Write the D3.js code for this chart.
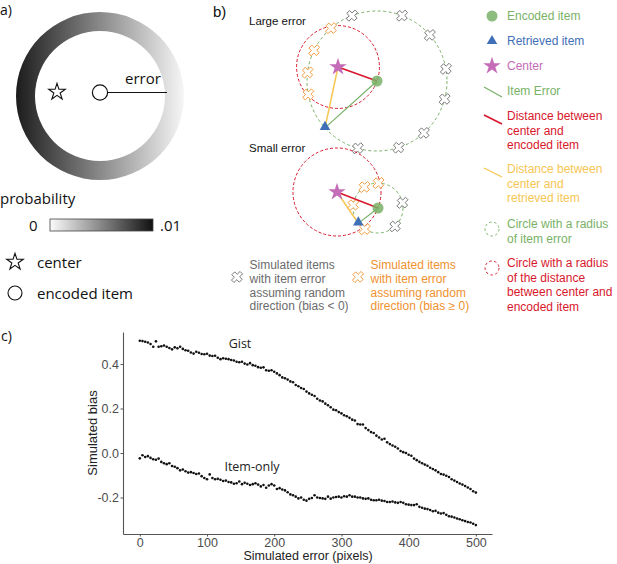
<!DOCTYPE html>
<html>
<head>
<meta charset="utf-8">
<script src="https://cdn.jsdelivr.net/npm/d3@7"></script>
<style>
  body { margin: 0; background: #fff; }
  svg { display: block; }
</style>
</head>
<body>
<svg id="fig" width="617" height="564"></svg>
<script>
// panel c: simulated bias against simulated error
var errorPx = [
  0, 4, 8, 12, 16, 20, 24, 28, 32, 36, 40, 44, 48, 52, 56, 60, 64, 68, 72, 76, 80, 84, 88, 92, 96,
  100, 104, 108, 112, 116, 120, 124, 128, 132, 136, 140, 144, 148, 152, 156, 160, 164, 168, 172, 176, 180, 184, 188, 192, 196,
  200, 204, 208, 212, 216, 220, 224, 228, 232, 236, 240, 244, 248, 252, 256, 260, 264, 268, 272, 276, 280, 284, 288, 292, 296,
  300, 304, 308, 312, 316, 320, 324, 328, 332, 336, 340, 344, 348, 352, 356, 360, 364, 368, 372, 376, 380, 384, 388, 392, 396,
  400, 404, 408, 412, 416, 420, 424, 428, 432, 436, 440, 444, 448, 452, 456, 460, 464, 468, 472, 476, 480, 484, 488, 492, 496,
  500
];
var gistBias = [
  0.505, 0.503, 0.500, 0.497, 0.490, 0.478, 0.502, 0.478, 0.480, 0.483, 0.478, 0.472, 0.466, 0.475, 0.471, 0.478, 0.468, 0.462, 0.460, 0.452, 0.447, 0.455, 0.451, 0.445, 0.444,
  0.446, 0.438, 0.436, 0.437, 0.428, 0.422, 0.426, 0.424, 0.422, 0.418, 0.416, 0.410, 0.408, 0.410, 0.402, 0.398, 0.404, 0.395, 0.392, 0.386, 0.383, 0.385, 0.372, 0.370, 0.372,
  0.365, 0.358, 0.350, 0.340, 0.336, 0.330, 0.322, 0.318, 0.306, 0.300, 0.292, 0.288, 0.276, 0.268, 0.262, 0.256, 0.244, 0.236, 0.232, 0.222, 0.215, 0.206, 0.195, 0.192, 0.184,
  0.178, 0.170, 0.165, 0.158, 0.150, 0.146, 0.130, 0.128, 0.128, 0.112, 0.103, 0.094, 0.090, 0.078, 0.070, 0.061, 0.064, 0.048, 0.040, 0.034, 0.028, 0.020, 0.009, 0.004, 0.000,
  -0.008, -0.012, -0.025, -0.032, -0.040, -0.046, -0.052, -0.057, -0.066, -0.072, -0.078, -0.086, -0.094, -0.097, -0.102, -0.108, -0.118, -0.124, -0.130, -0.137, -0.142, -0.148, -0.155, -0.162, -0.172,
  -0.178
];
var itemOnlyBias = [
  -0.024, -0.010, -0.018, -0.014, -0.022, -0.028, -0.030, -0.025, -0.040, -0.046, -0.050, -0.046, -0.058, -0.062, -0.068, -0.078, -0.074, -0.082, -0.088, -0.086, -0.090, -0.094, -0.092, -0.104, -0.112,
  -0.118, -0.096, -0.112, -0.118, -0.116, -0.120, -0.126, -0.124, -0.130, -0.132, -0.138, -0.136, -0.128, -0.140, -0.134, -0.138, -0.144, -0.140, -0.136, -0.142, -0.150, -0.144, -0.156, -0.146, -0.140,
  -0.146, -0.162, -0.158, -0.164, -0.168, -0.176, -0.186, -0.190, -0.196, -0.204, -0.200, -0.210, -0.214, -0.206, -0.202, -0.190, -0.200, -0.202, -0.204, -0.206, -0.196, -0.205, -0.200, -0.198, -0.196,
  -0.200, -0.194, -0.196, -0.190, -0.196, -0.196, -0.200, -0.200, -0.204, -0.206, -0.204, -0.210, -0.212, -0.212, -0.210, -0.214, -0.216, -0.220, -0.220, -0.218, -0.222, -0.224, -0.220, -0.224, -0.230,
  -0.232, -0.234, -0.234, -0.230, -0.242, -0.246, -0.250, -0.252, -0.256, -0.262, -0.260, -0.268, -0.272, -0.270, -0.278, -0.284, -0.286, -0.290, -0.294, -0.298, -0.302, -0.306, -0.310, -0.312, -0.318,
  -0.324
];
var seriesNames = ["Gist", "Item-only"];
var xTicks = [0, 100, 200, 300, 400, 500];
var yTicks = [-0.2, 0.0, 0.2, 0.4];

// panel a: colour bar ends and legend
var probTicks = ["0", ".01"];
var panelALegend = ["center", "encoded item"];

// panel b: legend entries and simulated-item angles (degrees round the encoded item)
var bLegendKinds = ["encoded", "retrieved", "center", "itemError", "distEncoded", "distRetrieved", "circleItem", "circleDist"];
var bLegendText = [
  ["Encoded item"], ["Retrieved item"], ["Center"], ["Item Error"],
  ["Distance between", "center and", "encoded item"],
  ["Distance between", "center and", "retrieved item"],
  ["Circle with a radius", "of item error"],
  ["Circle with a radius", "of the distance", "between center and", "encoded item"]
];
var simText = [
  ["Simulated items", "with item error", "assuming random", "direction (bias < 0)"],
  ["Simulated items", "with item error", "assuming random", "direction (bias \u2265 0)"]
];
var largeNeg = [-111, -69, -41, -10, 15, 48, 72, 106];
var largePos = [-131, -154, -173, 169];
var smallNeg = [-12, 47];
var smallPos = [-123, -89, -173, 122];

var GREEN = "#79b267", BLUE = "#3f6fb6", PINK = "#c46cb8", RED = "#d8172c",
    YELLOW = "#f7c653", GREY = "#6b6b6b", ORANGE = "#f0912e";
var SANS = "'Liberation Sans', Arial, sans-serif";
var MYRIAD = "'Open Sans', sans-serif";

var svg = d3.select("#fig");
var defs = svg.append("defs");

// ---------- panel a ----------
// gradient is in the ring's own (centred) coordinates
var ringGrad = defs.append("linearGradient").attr("id", "ringGrad")
  .attr("gradientUnits", "userSpaceOnUse").attr("x1", -84).attr("x2", 84).attr("y1", 0).attr("y2", 0);
ringGrad.append("stop").attr("offset", 0).attr("stop-color", "#1c1c1c");
ringGrad.append("stop").attr("offset", 1).attr("stop-color", "#f6f6f6");

var barGrad = defs.append("linearGradient").attr("id", "barGrad");
barGrad.append("stop").attr("offset", 0).attr("stop-color", "#fbfbfb");
barGrad.append("stop").attr("offset", 1).attr("stop-color", "#111");

var a = svg.append("g").attr("font-family", MYRIAD).attr("fill", "#111");
a.append("text").attr("x", 0).attr("y", 15).attr("font-size", 14).text("a)");

a.append("path")
  .attr("transform", "translate(100,96)")
  .attr("d", d3.arc().innerRadius(65).outerRadius(84).startAngle(0).endAngle(2 * Math.PI)())
  .attr("fill", "url(#ringGrad)");

var star = d3.symbol().type(d3.symbolStar);
a.append("path").attr("transform", "translate(57,92)").attr("d", star.size(85)())
  .attr("fill", "#fff").attr("stroke", "#111").attr("stroke-width", 1.1);
a.append("line").attr("x1", 108).attr("x2", 167).attr("y1", 92.5).attr("y2", 92.5)
  .attr("stroke", "#111").attr("stroke-width", 1.2);
a.append("circle").attr("cx", 100).attr("cy", 92.5).attr("r", 7.6)
  .attr("fill", "#fff").attr("stroke", "#111").attr("stroke-width", 1.2);
a.append("text").attr("x", 125).attr("y", 84).attr("font-size", 15).text("error");

a.append("text").attr("x", 0).attr("y", 204).attr("font-size", 15).text("probability");
a.append("rect").attr("x", 50).attr("y", 219).attr("width", 103).attr("height", 12)
  .attr("fill", "url(#barGrad)").attr("stroke", "#444").attr("stroke-width", 0.8);
a.selectAll(".ptick").data(probTicks).join("text")
  .attr("x", function (d, i) { return i ? 160 : 29; }).attr("y", 231)
  .attr("font-size", 15).text(function (d) { return d; });

var aLeg = a.selectAll(".aleg").data(panelALegend).join("g")
  .attr("transform", function (d, i) { return "translate(15," + (262 + i * 31) + ")"; });
aLeg.each(function (d, i) {
  var g = d3.select(this);
  if (i === 0) {
    g.append("path").attr("d", star.size(85)()).attr("fill", "#fff").attr("stroke", "#111").attr("stroke-width", 1.1);
  } else {
    g.append("circle").attr("r", 7).attr("fill", "#fff").attr("stroke", "#111").attr("stroke-width", 1.1);
  }
  g.append("text").attr("x", 22).attr("y", 6).attr("font-size", 15).text(d);
});

// ---------- panel b ----------
var b = svg.append("g").attr("font-family", SANS);
b.append("text").attr("x", 213).attr("y", 17).attr("font-size", 15).attr("fill", "#111").text("b)");

var xMark = d3.symbol().type(d3.symbolCross).size(62);

function drawSim(g, x, y, positive) {
  g.append("path")
    .attr("transform", "translate(" + x + "," + y + ") rotate(45) scale(1,1.15)")
    .attr("d", xMark())
    .attr("fill", "#fff")
    .attr("stroke", positive ? ORANGE : GREY)
    .attr("stroke-width", 0.8);
}

function drawDiagram(title, titleY, c, e, itemR, retAngle, neg, pos) {
  var g = b.append("g");
  g.append("text").attr("x", 249).attr("y", titleY).attr("font-size", 11.5).attr("fill", "#111").text(title);
  var rad = Math.PI / 180;
  var onCircle = function (deg) { return [e[0] + itemR * Math.cos(deg * rad), e[1] + itemR * Math.sin(deg * rad)]; };
  var r = onCircle(retAngle);
  var distR = Math.hypot(e[0] - c[0], e[1] - c[1]);

  g.append("circle").attr("cx", c[0]).attr("cy", c[1]).attr("r", distR)
    .attr("fill", "none").attr("stroke", RED).attr("stroke-width", 1).attr("stroke-dasharray", "3,2");
  g.append("circle").attr("cx", e[0]).attr("cy", e[1]).attr("r", itemR)
    .attr("fill", "none").attr("stroke", GREEN).attr("stroke-width", 1).attr("stroke-dasharray", "3,2.5");

  neg.forEach(function (d) { var p = onCircle(d); drawSim(g, p[0], p[1], false); });
  pos.forEach(function (d) { var p = onCircle(d); drawSim(g, p[0], p[1], true); });

  g.append("line").attr("x1", c[0]).attr("y1", c[1]).attr("x2", e[0]).attr("y2", e[1]).attr("stroke", RED).attr("stroke-width", 1.6);
  g.append("line").attr("x1", c[0]).attr("y1", c[1]).attr("x2", r[0]).attr("y2", r[1]).attr("stroke", YELLOW).attr("stroke-width", 1.5);
  g.append("line").attr("x1", e[0]).attr("y1", e[1]).attr("x2", r[0]).attr("y2", r[1]).attr("stroke", GREEN).attr("stroke-width", 1.2);

  g.append("circle").attr("cx", e[0]).attr("cy", e[1]).attr("r", 5.5).attr("fill", GREEN).attr("fill-opacity", 0.85);
  g.append("path").attr("transform", "translate(" + r[0] + "," + (r[1] - 1) + ")")
    .attr("d", d3.symbol().type(d3.symbolTriangle).size(48)()).attr("fill", BLUE);
  g.append("path").attr("transform", "translate(" + c[0] + "," + c[1] + ")")
    .attr("d", star.size(95)()).attr("fill", PINK);
}

drawDiagram("Large error", 25, [338, 67], [377, 81], 70, 138, largeNeg, largePos);
drawDiagram("Small error", 152, [337, 192], [378, 208], 25, 142, smallNeg, smallPos);

// legend down the right
var legY = [16, 41, 66, 91, 121, 174, 229, 268];
var legColour = [GREEN, BLUE, PINK, GREEN, RED, YELLOW, GREEN, RED];
var leg = b.selectAll(".bleg").data(bLegendKinds).join("g")
  .attr("transform", function (d, i) { return "translate(492," + legY[i] + ")"; });
leg.each(function (kind, i) {
  var g = d3.select(this), col = legColour[i];
  if (kind === "encoded") g.append("circle").attr("r", 5.5).attr("fill", col).attr("fill-opacity", 0.85);
  if (kind === "retrieved") g.append("path").attr("d", d3.symbol().type(d3.symbolTriangle).size(48)()).attr("fill", col);
  if (kind === "center") g.append("path").attr("d", star.size(95)()).attr("fill", col);
  if (kind === "itemError" || kind === "distEncoded" || kind === "distRetrieved") {
    g.append("line").attr("x1", -8).attr("y1", kind === "itemError" ? -4 : -6)
      .attr("x2", 10).attr("y2", kind === "itemError" ? 6 : 3)
      .attr("stroke", col).attr("stroke-width", kind === "distEncoded" ? 1.6 : 1.3);
  }
  if (kind === "circleItem" || kind === "circleDist") {
    g.append("circle").attr("r", 7).attr("fill", "none").attr("stroke", col)
      .attr("stroke-width", 1).attr("stroke-dasharray", "2.5,2.5");
  }
  g.selectAll("text").data(bLegendText[i]).join("text")
    .attr("x", 15).attr("y", function (d, j) { return (i >= 4 ? -1 : 4) + j * 14.5; })
    .attr("font-size", 12).attr("fill", col).text(function (d) { return d; });
});

// simulated-item key under the diagrams
var simG = b.selectAll(".sim").data(simText).join("g")
  .attr("transform", function (d, i) { return "translate(" + (i ? 358 : 237) + ",277)"; });
simG.each(function (lines, i) {
  var g = d3.select(this);
  drawSim(g, 0, 0, i === 1);
  g.selectAll("text").data(lines).join("text")
    .attr("x", 12.5).attr("y", function (d, j) { return -8 + j * 13.8; })
    .attr("font-size", 12).attr("fill", i ? ORANGE : GREY).text(function (d) { return d; });
});

// ---------- panel c ----------
var c = svg.append("g").attr("font-family", SANS);
c.append("text").attr("x", 1).attr("y", 341).attr("font-size", 14).attr("font-family", MYRIAD).attr("fill", "#111").text("c)");

var x = d3.scaleLinear().domain([-25, 524]).range([123, 492]);
var y = d3.scaleLinear().domain([-0.364, 0.544]).range([534, 332]);

var yAxis = c.append("g").attr("transform", "translate(123,0)")
  .call(d3.axisLeft(y).tickValues(yTicks).tickSize(2.5).tickSizeOuter(0).tickPadding(1.5)
    .tickFormat(function (d) { return d.toFixed(1); }));
var xAxis = c.append("g").attr("transform", "translate(0,534)")
  .call(d3.axisBottom(x).tickValues(xTicks).tickSize(2.5).tickSizeOuter(0).tickPadding(1.5));
[yAxis, xAxis].forEach(function (ax) {
  ax.select(".domain").attr("stroke", "#555").attr("stroke-width", 1.1);
  ax.selectAll(".tick line").attr("stroke", "#555");
  ax.selectAll(".tick text").attr("fill", "#4d4d4d").attr("font-size", 12.5).attr("font-family", SANS);
});

c.append("text").attr("transform", "translate(97,433) rotate(-90)").attr("text-anchor", "middle")
  .attr("font-size", 13).attr("fill", "#222").text("Simulated bias");
c.append("text").attr("x", 308).attr("y", 560).attr("text-anchor", "middle")
  .attr("font-size", 12.5).attr("fill", "#222").text("Simulated error (pixels)");

[gistBias, itemOnlyBias].forEach(function (vals) {
  c.append("g").selectAll("circle").data(vals).join("circle")
    .attr("cx", function (d, i) { return x(errorPx[i]); })
    .attr("cy", function (d) { return y(d); })
    .attr("r", 1.3).attr("fill", "#111");
});

c.selectAll(".slab").data(seriesNames).join("text")
  .attr("x", function (d, i) { return i ? 252 : 240; })
  .attr("y", function (d, i) { return i ? 471 : 348; })
  .attr("text-anchor", "middle").attr("font-size", 12.5).attr("fill", "#222")
  .attr("font-family", MYRIAD).text(function (d) { return d; });
</script>
</body>
</html>
